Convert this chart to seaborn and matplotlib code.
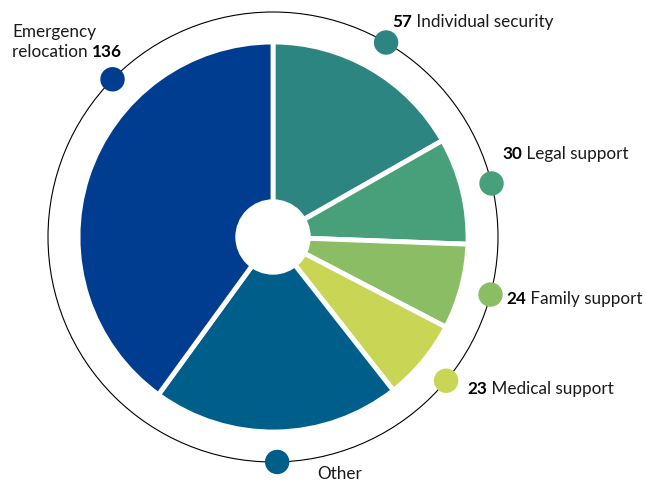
import numpy as np
import matplotlib
matplotlib.use("Agg")
import matplotlib.pyplot as plt
import seaborn as sns

# slice data, clockwise from 12 o'clock
labels = ["Individual security", "Legal support", "Family support",
          "Medical support", "Other", "Emergency relocation"]
values = [57, 30, 24, 23, 70, 136]
shown = ["57", "30", "24", "23", "", "136"]
colors = ["#2d8582", "#47a07a", "#8bbe64", "#c9d655", "#005e8a", "#003c8f"]

sns.set_theme(style="white")
plt.rcParams["font.family"] = ["Lato", "DejaVu Sans"]

fig = plt.figure(figsize=(6.46, 4.83), dpi=100)
ax = fig.add_axes([0, 0, 1, 1])

cx, cy = 273, 246
r_pie, r_ring = 195, 225

wedges, _ = ax.pie(values, colors=colors, startangle=90, counterclock=False,
                   radius=r_pie, center=(cx, cy), frame=True,
                   wedgeprops=dict(edgecolor="white", linewidth=3.5))
ax.set_xlim(0, 646)
ax.set_ylim(0, 483)
ax.set_aspect("equal")
ax.axis("off")

# centre hole and outer ring
ax.add_patch(plt.Circle((cx, cy), 37, color="white", zorder=5))
ax.add_patch(plt.Circle((cx, cy), r_ring, fill=False, edgecolor="black",
                        linewidth=0.8, zorder=1))

# dots on the ring at wedge midpoints (emergency one moved up-left)
for i, w in enumerate(wedges):
    ang = (w.theta1 + w.theta2) / 2
    if labels[i] == "Emergency relocation":
        ang = 135.5
    a = np.deg2rad(ang)
    ax.add_patch(plt.Circle((cx + r_ring * np.cos(a), cy + r_ring * np.sin(a)),
                            11.5, color=colors[i], zorder=6))

# label text positions (left edge, bottom)
label_pos = {
    "Individual security": (392, 453),
    "Legal support": (502, 321),
    "Family support": (506, 176),
    "Medical support": (467, 86),
    "Other": (317, 1),
}
fs = 12.3
for i, lab in enumerate(labels):
    if lab not in label_pos:
        continue
    x, y = label_pos[lab]
    if shown[i]:
        t = ax.text(x, y, shown[i], fontsize=fs, fontweight="bold",
                    ha="left", va="bottom", color="black")
        ax.annotate(" " + lab, xy=(1, 0), xycoords=t, fontsize=fs,
                    ha="left", va="bottom", color="#1a1a1a")
    else:
        ax.text(x, y, lab, fontsize=fs, ha="left", va="bottom", color="#1a1a1a")

ax.text(12, 443, "Emergency", fontsize=fs, ha="left", va="bottom", color="#1a1a1a")
t = ax.text(12, 423, "relocation ", fontsize=fs, ha="left", va="bottom", color="#1a1a1a")
ax.annotate(shown[5], xy=(1, 0), xycoords=t, fontsize=fs, fontweight="bold",
            ha="left", va="bottom", color="black")

fig.savefig("out.png", dpi=100)
